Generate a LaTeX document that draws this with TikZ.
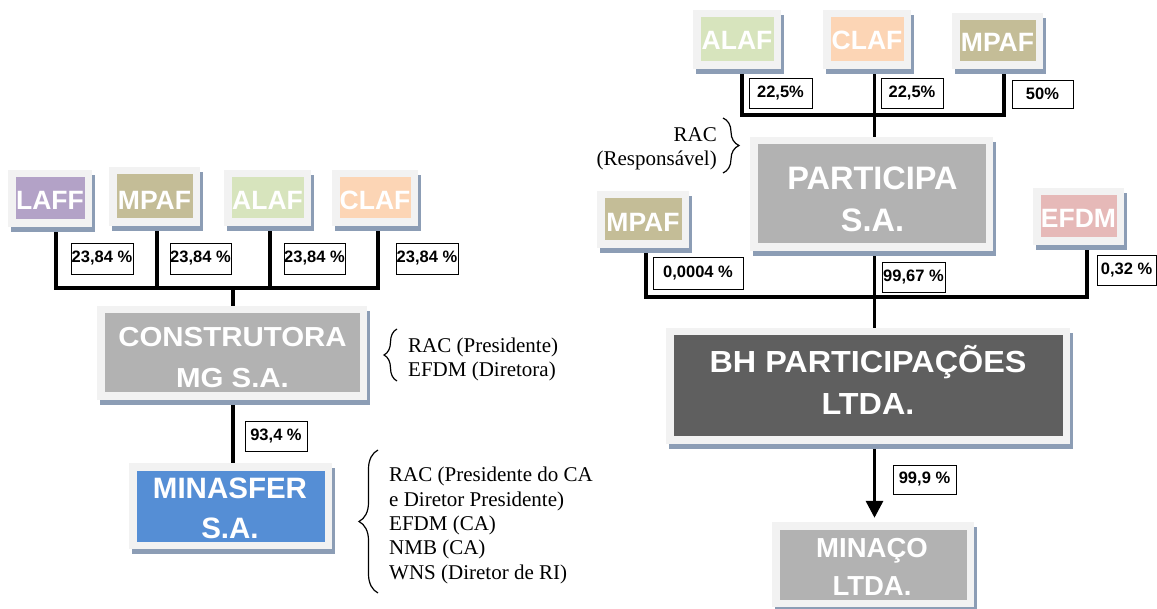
\documentclass[tikz,border=0pt]{standalone}
\usepackage{graphicx}
\usepackage{fontspec}
\setmainfont{Liberation Serif}
\newfontfamily\arialf{Liberation Sans}
\usetikzlibrary{arrows.meta,shadows,decorations.pathreplacing}
\pgfdeclarelayer{background}
\pgfsetlayers{background,main}
\definecolor{framec}{HTML}{F2F2F2}
\definecolor{shadowc}{HTML}{8C9DB5}
\definecolor{laffc}{HTML}{B3A2C7}
\definecolor{mpafc}{HTML}{C4BD97}
\definecolor{alafc}{HTML}{D7E4BD}
\definecolor{clafc}{HTML}{FCD5B5}
\definecolor{efdmc}{HTML}{E6B9B8}
\definecolor{greyc}{HTML}{B2B2B2}
\definecolor{darkc}{HTML}{5F5F5F}
\definecolor{bluec}{HTML}{558ED5}
\newcommand\bigf[1]{\arialf\bfseries\fontsize{#1}{#1}\selectfont}
\tikzset{
  entity/.style={rectangle, inner sep=0pt, fill=framec,
    drop shadow={shadow xshift=3pt, shadow yshift=-5pt, fill=shadowc, opacity=1},
    path picture={\fill[#1] ([shift={(7.5pt,7.5pt)}]path picture bounding box.south west)
      rectangle ([shift={(-7.5pt,-7.5pt)}]path picture bounding box.north east);}},
  dims/.style 2 args={minimum width=#1pt, minimum height=#2pt},
  pct/.style={draw=black, line width=0.9pt, fill=white, inner sep=0pt,
    font=\arialf\bfseries\fontsize{16.5}{18}\selectfont},
  conn/.style={line width=3.3pt, draw=black},
  lbl/.style={anchor=base, text=white, inner sep=0pt},
  serif/.style={font=\fontsize{21}{24}\selectfont, inner sep=0pt},
  brc/.style={decorate, decoration={brace, amplitude=#1}, line width=1.2pt},
}
\begin{document}
\begin{tikzpicture}[x=1pt,y=-1pt]
\useasboundingbox (0,0) rectangle (1157,609);

% ---------- left tree ----------
\node[entity=laffc, dims={84}{57}] (laff) at (50,198.5) {};
\node[entity=mpafc, dims={91}{59}] (mpafL) at (154.5,196.5) {};
\node[entity=alafc, dims={87}{56}] (alafL) at (267.5,198) {};
\node[entity=clafc, dims={86}{56}] (clafL) at (375,198) {};
\node[lbl, font=\bigf{26.5}] (tlaff) at (50,210) {LAFF};
\node[lbl, font=\bigf{26.5}] (tmpafL) at (154.5,210) {MPAF};
\node[lbl, font=\bigf{26.5}] (talafL) at (267.5,210) {ALAF};
\node[lbl, font=\bigf{26.5}] (tclafL) at (375,210) {CLAF};

\node[pct, dims={62}{31}] (pL1) at (102,258.5) {23,84 \%};
\node[pct, dims={61}{31}] (pL2) at (200.5,258.5) {23,84 \%};
\node[pct, dims={61}{31}] (pL3) at (314.5,258.5) {23,84 \%};
\node[pct, dims={62}{31}] (pL4) at (427,258.5) {23,84 \%};

\node[entity=greyc, dims={270}{94}] (constr) at (232,353) {};
\node[lbl, font=\bigf{27.5}] (tcon1) at (232.5,347) {\scalebox{1.07}[1]{CONSTRUTORA}};
\node[lbl, font=\bigf{27.5}] (tcon2) at (232.5,388) {\scalebox{1.07}[1]{MG S.A.}};

\node[pct, dims={62}{30}] (p934) at (276,436) {93,4 \%};

\node[entity=bluec, dims={203}{86}] (minasfer) at (230.5,506) {};
\node[lbl, font=\bigf{29.5}] (tmin1) at (230,498) {MINASFER};
\node[lbl, font=\bigf{29.5}] (tmin2) at (230,538) {S.A.};

\draw[brc=13] (397,381) -- (397,329);
\node[serif, anchor=base west] (c1) at (408,353) {RAC (Presidente)};
\node[serif, anchor=base west] (c2) at (408,377) {EFDM (Diretora)};

\draw[brc=19] (378,593) -- (378,450);
\node[serif, anchor=base west] (m1) at (389,481.7) {RAC (Presidente do CA};
\node[serif, anchor=base west] (m2) at (389,506.1) {e Diretor Presidente)};
\node[serif, anchor=base west] (m3) at (389,530.5) {EFDM (CA)};
\node[serif, anchor=base west] (m4) at (389,554.9) {NMB (CA)};
\node[serif, anchor=base west] (m5) at (389,579.3) {WNS (Diretor de RI)};

% ---------- right tree ----------
\node[entity=alafc, dims={88}{59}] (alafR) at (737,39.5) {};
\node[entity=clafc, dims={88}{59}] (clafR) at (867,39.5) {};
\node[entity=mpafc, dims={91}{56}] (mpafR) at (997.5,41) {};
\node[lbl, font=\bigf{26.5}] (talafR) at (737,50) {ALAF};
\node[lbl, font=\bigf{26.5}] (tclafR) at (867,50) {CLAF};
\node[lbl, font=\bigf{26.5}] (tmpafR) at (997.5,51.5) {MPAF};

\node[pct, dims={63}{30}] (pR1) at (780.5,93) {22,5\%};
\node[pct, dims={62}{30}] (pR2) at (912,93) {22,5\%};
\node[pct, dims={61}{28}] (pR3) at (1042.5,94) {50\%};

\draw[brc=16] (723,118) -- (723,173);
\node[serif, anchor=base east] (rac1) at (717,142) {RAC};
\node[serif, anchor=base east] (rac2) at (717,166) {(Responsável)};

\node[entity=greyc, dims={243}{114}] (participa) at (871.5,194) {};
\node[lbl, font=\bigf{32.5}] (tpar1) at (872.5,190) {PARTICIPA};
\node[lbl, font=\bigf{32.5}] (tpar2) at (872.5,232) {S.A.};

\node[entity=mpafc, dims={92}{57}] (mpafS) at (643,219.5) {};
\node[lbl, font=\bigf{26.5}] (tmpafS) at (643,232) {MPAF};
\node[entity=efdmc, dims={91}{57}] (efdm) at (1078.5,216.5) {};
\node[lbl, font=\bigf{26.5}] (tefdm) at (1078.5,228) {EFDM};

\node[pct, dims={90}{32}] (pS1) at (698,273) {0,0004 \%};
\node[pct, dims={63}{30}] (pS2) at (913.5,277) {99,67 \%};
\node[pct, dims={59}{30}] (pS3) at (1126.5,270) {0,32 \%};

\node[entity=darkc, dims={404}{116}] (bh) at (868,386) {};
\node[lbl, font=\bigf{30.5}] (tbh1) at (868,373) {\scalebox{1.06}[1]{BH PARTICIPAÇÕES}};
\node[lbl, font=\bigf{30.5}] (tbh2) at (868,415) {\scalebox{1.06}[1]{LTDA.}};

\node[pct, dims={63}{29}] (p999) at (924.5,479.5) {99,9 \%};

\node[entity=greyc, dims={202}{85}] (minaco) at (873,564.5) {};
\node[lbl, font=\bigf{27.5}] (tmc1) at (872,557) {MINAÇO};
\node[lbl, font=\bigf{27.5}] (tmc2) at (872,595) {LTDA.};

% ---------- connectors ----------
\begin{pgfonlayer}{background}
\coordinate (jL1) at (56,288);
\coordinate (jL2) at (157,288);
\coordinate (jL3) at (270,288);
\coordinate (jL4) at (378,288);
\coordinate (jL0) at (233,288);
\draw[conn] (jL1 |- laff.south) -- (jL1) -- (jL4) -- (jL4 |- clafL.south);
\draw[conn] (jL2 |- mpafL.south) -- (jL2);
\draw[conn] (jL3 |- alafL.south) -- (jL3);
\draw[conn] (jL0) -- (jL0 |- constr.north);
\draw[conn] (jL0 |- constr.south) -- (jL0 |- minasfer.north);

\coordinate (jR1) at (742,115);
\coordinate (jR2) at (874.5,115);
\coordinate (jR3) at (1004,115);
\draw[conn] (jR1 |- alafR.south) -- (jR1) -- (jR3) -- (jR3 |- mpafR.south);
\draw[conn] (jR2 |- clafR.south) -- (jR2 |- participa.north);

\coordinate (jS1) at (646,297);
\coordinate (jS2) at (874.5,297);
\coordinate (jS3) at (1087,297);
\draw[conn] (jS1 |- mpafS.south) -- (jS1) -- (jS3) -- (jS3 |- efdm.south);
\draw[conn] (jS2 |- participa.south) -- (jS2 |- bh.north);
\draw[conn, -{Triangle[width=17pt,length=17pt]}, shorten >=4pt]
  (jS2 |- bh.south) -- (jS2 |- minaco.north);
\end{pgfonlayer}
\end{tikzpicture}
\end{document}
